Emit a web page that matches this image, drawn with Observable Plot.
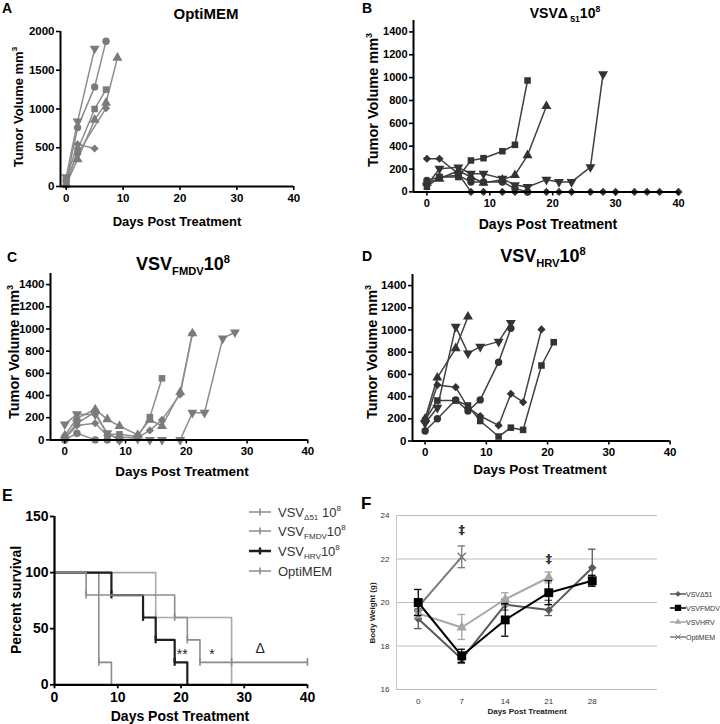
<!DOCTYPE html>
<html><head><meta charset="utf-8">
<script src="https://cdn.jsdelivr.net/npm/d3@7"></script>
<script src="https://cdn.jsdelivr.net/npm/@observablehq/plot@0.6"></script>
<style>
body{margin:0;background:#fff;}
#fig{position:relative;width:720px;height:724px;overflow:hidden;font-family:"Liberation Sans",Arial,sans-serif;background:#fff;}
.t{position:absolute;white-space:nowrap;line-height:1;}
.t sub,.t sup{font-size:0.62em;line-height:0;}
</style></head><body><div id="fig"></div>
<script>
// ---------------- DATA ----------------
// Panel A: OptiMEM tumor volumes [day, mm3]
const A_invtri   = [[0,120],[2,840],[5,1780]];
const A_circle   = [[0,60],[2,760],[5,1285],[7,1875]];
const A_triangle = [[0,30],[2,350],[5,860],[7,1080],[9,1660]];
const A_square   = [[0,20],[2,470],[5,1000],[7,1250]];
const A_diamond  = [[0,80],[2,420],[7,1010]];
const A_diamond2 = [[0,100],[2,545],[5,490]];
// Panel B: VSVΔ51 1e8
const B_square   = [[0,45],[2,130],[5,130],[7,275],[9,295],[12,356],[14,412],[16,975]];
const B_triangle = [[0,80],[2,115],[5,185],[7,130],[9,80],[12,107],[14,146],[16,320],[19,750]];
const B_invtri   = [[0,58],[2,203],[5,215],[7,159],[9,159],[12,116],[14,60],[16,43],[19,107],[21,87],[23,87],[26,217],[28,1030]];
const B_diamond  = [[0,290],[2,290],[5,160],[7,0],[9,0],[12,0],[14,0],[16,0],[19,0],[21,0],[23,0],[26,0],[28,0],[30,0],[33,0],[35,0],[37,0],[40,0]];
const B_circle   = [[0,100],[2,130],[5,145],[7,87],[9,87],[12,87],[14,29],[16,0]];
// Panel C: VSV-FMDV 1e8
const C_square   = [[0,20],[2,150],[5,250],[7,50],[9,50],[12,30],[14,205],[16,555]];
const C_diamond  = [[0,10],[2,130],[5,150],[7,40],[9,25],[12,20],[14,85],[16,180],[19,410],[21,960]];
const C_triangle = [[0,40],[2,195],[5,275],[7,185],[9,125],[12,45],[14,180],[16,125],[19,430],[21,960]];
const C_invtri   = [[0,140],[2,232],[5,230],[7,60],[9,0],[12,10],[14,0],[16,0],[19,0],[21,245],[23,245],[26,915],[28,970]];
const C_circle   = [[0,0],[2,60],[5,0],[7,0],[9,0]];
// Panel D: VSV-HRV 1e8
const D_triangle = [[0,200],[2,570],[5,835],[7,1120]];
const D_invtri   = [[0,160],[2,300],[5,1030],[7,790],[9,850],[12,895],[14,1065]];
const D_diamond  = [[0,170],[2,505],[5,485],[7,300],[9,225],[12,140],[14,425],[16,350],[19,1005]];
const D_circle   = [[0,90],[2,200],[5,370],[7,270],[9,370],[12,710],[14,1015]];
const D_square   = [[0,185],[2,365],[5,365],[7,320],[9,180],[12,40],[14,120],[16,100],[19,680],[21,890]];
// Panel E: survival [day, percent]
const E_d51  = [[0,100],[5,80],[19,60],[21,40],[23,20],[40,20]];
const E_fmdv = [[0,100],[16,60],[28,0]];
const E_hrv  = [[0,100],[9,80],[14,60],[16,40],[19,20],[21,0]];
const E_opti = [[0,100],[7,20],[9,0]];
const E_ticks_d51  = [[5,80],[19,60],[21,40],[23,20],[28,20],[40,20]];
const E_ticks_fmdv = [[16,60]];
const E_ticks_hrv  = [[9,80],[14,60],[16,40],[19,20]];
const E_ticks_opti = [[7,20]];
const E_notes = [[20.2,27,"**"],[24.9,27,"*"],[32.5,32,"Δ"]];
const E_legend = ["VSV<sub>Δ51</sub> 10<sup>8</sup>","VSV<sub>FMDV</sub>10<sup>8</sup>","VSV<sub>HRV</sub>10<sup>8</sup>","OptiMEM"];
// Panel F: body weight [day, mean, low, high]
const F_days = [0,7,14,21,28];
const F_d51  = [[0,19.25,18.8,19.7],[7,17.4,17.2,17.6],[14,19.9,19.65,20.15],[21,19.65,19.4,20.1],[28,21.6,20.75,22.45]];
const F_fmdv = [[0,20.0,19.4,20.6],[7,17.55,17.25,17.85],[14,19.2,18.45,19.95],[21,20.45,19.9,21.0],[28,21.0,20.75,21.25]];
const F_hrv  = [[0,19.5,19.3,19.7],[7,18.85,18.3,19.45],[14,20.15,19.85,20.45],[21,21.15,20.9,21.4]];
const F_opti = [[0,19.8,19.6,20.0],[7,22.1,21.6,22.6]];
const F_sig  = [[7,23.35,"‡"],[21,22.0,"‡"]];
const F_legend = ["VSVΔ51","VSVFMDV","VSVHRV","OptiMEM"];

// ---------------- HELPERS ----------------
const fig = document.getElementById("fig");
const FONT = '"Liberation Sans", Arial, sans-serif';
const fmt = d3.format("d");
function txt(html, x, y, {size=13, weight="bold", anchor="middle", rotate=false, color="#000"}={}) {
  const el = document.createElement("div");
  el.className = "t";
  el.innerHTML = html;
  el.style.fontSize = size + "px";
  el.style.fontWeight = weight;
  el.style.color = color;
  el.style.left = x + "px";
  el.style.top = y + "px";
  const tx = anchor === "middle" ? "-50%" : anchor === "end" ? "-100%" : "0";
  el.style.transform = `translate(${tx},-50%)` + (rotate ? " rotate(-90deg)" : "");
  fig.append(el);
}
function put(svg, left, top) {
  svg.style.position = "absolute";
  svg.style.left = left + "px";
  svg.style.top = top + "px";
  fig.append(svg);
}
const invTri = { draw(ctx, size) { const s3 = Math.sqrt(3); const y = -Math.sqrt(size / (s3 * 3)); ctx.moveTo(0, -y * 2); ctx.lineTo(-s3 * y, y); ctx.lineTo(s3 * y, y); ctx.closePath(); } };
const shapes = {circle: d3.symbolCircle, square: d3.symbolSquare, triangle: d3.symbolTriangle, invtri: invTri, diamond: d3.symbolDiamond2 || d3.symbolDiamond};

function tumorPanel({ax, x0, x40, yTop, yBottom, ymax, yticks, series, color, lineColor, fontSize}) {
  const mL = 46, mR = 12, mT = 6, mB = 26;
  const dmin = -(x0 - ax) * 40 / (x40 - x0);
  const width = mL + (x40 - ax) + mR;
  const height = mT + (yBottom - yTop) + mB;
  const marks = [];
  for (const s of series) marks.push(Plot.line(s.data.map(([d, v]) => ({d, v})), {x: "d", y: "v", stroke: lineColor, strokeWidth: 1.5}));
  for (const s of series) marks.push(Plot.dot(s.data.map(([d, v]) => ({d, v})), {x: "d", y: "v", symbol: shapes[s.shape], fill: color, r: 3.7}));
  marks.push(
    Plot.ruleY([0], {stroke: "#000", strokeWidth: 2}),
    Plot.ruleX([dmin], {stroke: "#000", strokeWidth: 2}),
    Plot.axisX({ticks: [0, 10, 20, 30, 40], tickFormat: fmt, tickSize: 4, tickPadding: 3, label: null, strokeWidth: 1.6}),
    Plot.axisY({ticks: yticks, tickFormat: fmt, tickSize: 4, tickPadding: 2, label: null, strokeWidth: 1.6})
  );
  const svg = Plot.plot({
    width, height, marginLeft: mL, marginRight: mR, marginTop: mT, marginBottom: mB,
    x: {domain: [dmin, 40]}, y: {domain: [0, ymax]},
    style: {fontFamily: FONT, fontSize: fontSize + "px", fontWeight: "bold", color: "#000", background: "transparent", overflow: "visible"},
    marks
  });
  put(svg, ax - mL, yTop - mT);
}

const grayPt = "#7b7b7b", grayLn = "#8d8d8d", darkPt = "#333", darkLn = "#404040";
const yt1400 = [0, 200, 400, 600, 800, 1000, 1200, 1400];

// Panel A
tumorPanel({ax: 60, x0: 65.7, x40: 293.3, yTop: 30.7, yBottom: 185.7, ymax: 2000, yticks: [0, 500, 1000, 1500, 2000],
  series: [{shape: "invtri", data: A_invtri}, {shape: "circle", data: A_circle}, {shape: "triangle", data: A_triangle}, {shape: "square", data: A_square}, {shape: "diamond", data: A_diamond}, {shape: "diamond", data: A_diamond2}],
  color: grayPt, lineColor: grayLn, fontSize: 11.5});
// Panel B
tumorPanel({ax: 413.3, x0: 426.7, x40: 678.3, yTop: 20.3, yBottom: 191.7, ymax: 1500, yticks: yt1400,
  series: [{shape: "diamond", data: B_diamond}, {shape: "circle", data: B_circle}, {shape: "triangle", data: B_triangle}, {shape: "invtri", data: B_invtri}, {shape: "square", data: B_square}],
  color: darkPt, lineColor: darkLn, fontSize: 11});
// Panel C
tumorPanel({ax: 50, x0: 64.3, x40: 307.3, yTop: 272.9, yBottom: 439.3, ymax: 1500, yticks: yt1400,
  series: [{shape: "circle", data: C_circle}, {shape: "invtri", data: C_invtri}, {shape: "triangle", data: C_triangle}, {shape: "diamond", data: C_diamond}, {shape: "square", data: C_square}],
  color: grayPt, lineColor: grayLn, fontSize: 11.5});
// Panel D
tumorPanel({ax: 411.7, x0: 424.3, x40: 669.3, yTop: 274.2, yBottom: 440.7, ymax: 1500, yticks: yt1400,
  series: [{shape: "triangle", data: D_triangle}, {shape: "invtri", data: D_invtri}, {shape: "diamond", data: D_diamond}, {shape: "circle", data: D_circle}, {shape: "square", data: D_square}],
  color: darkPt, lineColor: darkLn, fontSize: 11.5});

// Panel E
(function () {
  const ax = 54.3, x40 = 307.3, yTop = 515.7, yBottom = 684;
  const mL = 50, mR = 14, mT = 6, mB = 30;
  const width = mL + (x40 - ax) + mR, height = mT + (yBottom - yTop) + mB;
  const curves = [
    {data: E_fmdv, ticks: E_ticks_fmdv, stroke: "#a9a9a9", w: 1.6},
    {data: E_opti, ticks: E_ticks_opti, stroke: "#8c8c8c", w: 1.6},
    {data: E_hrv,  ticks: E_ticks_hrv,  stroke: "#1e1e1e", w: 2.2},
    {data: E_d51,  ticks: E_ticks_d51,  stroke: "#8c8c8c", w: 1.6}
  ];
  const marks = [];
  for (const c of curves) {
    marks.push(Plot.line(c.data.map(([d, p]) => ({d, p})), {x: "d", y: "p", stroke: c.stroke, strokeWidth: c.w, curve: "step-after"}));
    marks.push(Plot.ruleX(c.ticks.map(([d, p]) => ({d, p})), {x: "d", y1: r => r.p - 3.5, y2: r => r.p + 3.5, stroke: c.stroke, strokeWidth: c.w}));
  }
  marks.push(Plot.text(E_notes.map(([d, p, t]) => ({d, p, t})), {x: "d", y: "p", text: "t", fontSize: 14, fontWeight: "normal", fill: "#222"}));
  marks.push(
    Plot.ruleY([0], {stroke: "#000", strokeWidth: 2.2}),
    Plot.ruleX([0], {stroke: "#000", strokeWidth: 2.2}),
    Plot.axisX({ticks: [0, 10, 20, 30, 40], tickFormat: fmt, tickSize: 4, tickPadding: 3, label: null, strokeWidth: 1.8}),
    Plot.axisY({ticks: [0, 50, 100, 150], tickFormat: fmt, tickSize: 4, tickPadding: 2, label: null, strokeWidth: 1.8})
  );
  const svg = Plot.plot({
    width, height, marginLeft: mL, marginRight: mR, marginTop: mT, marginBottom: mB,
    x: {domain: [0, 40]}, y: {domain: [0, 150]},
    style: {fontFamily: FONT, fontSize: "14px", fontWeight: "bold", color: "#000", background: "transparent", overflow: "visible"},
    marks
  });
  put(svg, ax - mL, yTop - mT);
  // legend
  const lc = [["#8c8c8c", 1.6], ["#8c8c8c", 1.6], ["#1e1e1e", 2.4], ["#8c8c8c", 1.6]];
  const ly = [512, 531, 551, 571];
  E_legend.forEach((lab, i) => {
    const sw = `<svg width="22" height="9" style="vertical-align:middle"><line x1="0" y1="4.5" x2="22" y2="4.5" stroke="${lc[i][0]}" stroke-width="${lc[i][1]}"/><line x1="11" y1="1" x2="11" y2="8" stroke="${lc[i][0]}" stroke-width="${lc[i][1]}"/></svg>`;
    txt(sw, 249, ly[i], {anchor: "start", size: 9});
    txt(lab, 278, ly[i], {anchor: "start", size: 13, weight: "normal", color: "#333"});
  });
})();

// Panel F
(function () {
  const left = 360, top = 505, width = 300, height = 219;
  const mL = 36, mR = 3, mT = 10, mB = 35;
  const series = [
    {data: F_d51,  stroke: "#595959", symbol: d3.symbolDiamond2 || d3.symbolDiamond, r: 3.8, w: 2},
    {data: F_hrv,  stroke: "#a6a6a6", symbol: d3.symbolTriangle, r: 3.8, w: 2},
    {data: F_opti, stroke: "#7a7a7a", symbol: "times", r: 3.8, w: 2},
    {data: F_fmdv, stroke: "#000", symbol: d3.symbolSquare, r: 5, w: 2}
  ];
  const marks = [
    Plot.gridY({ticks: [16, 18, 20, 22, 24], stroke: "#bdbdbd", strokeOpacity: 1, strokeWidth: 1}),
    Plot.ruleX([-3.5], {stroke: "#c8c8c8", strokeWidth: 1}),
    Plot.axisY({ticks: [16, 18, 20, 22, 24], tickFormat: fmt, tickSize: 0, tickPadding: 7, label: null}),
    Plot.axisX({ticks: F_days, tickFormat: fmt, tickSize: 0, tickPadding: 9, label: null})
  ];
  for (const s of series) {
    const rows = s.data.map(([d, m, lo, hi]) => ({d, m, lo, hi}));
    marks.push(Plot.ruleX(rows, {x: "d", y1: "lo", y2: "hi", stroke: s.stroke, strokeWidth: 1.3}));
    marks.push(Plot.ruleY(rows, {y: "lo", x1: r => r.d - 0.6, x2: r => r.d + 0.6, stroke: s.stroke, strokeWidth: 1.3}));
    marks.push(Plot.ruleY(rows, {y: "hi", x1: r => r.d - 0.6, x2: r => r.d + 0.6, stroke: s.stroke, strokeWidth: 1.3}));
    marks.push(Plot.line(rows, {x: "d", y: "m", stroke: s.stroke, strokeWidth: s.w}));
    if (s.symbol === "times") marks.push(Plot.dot(rows, {x: "d", y: "m", symbol: "times", stroke: s.stroke, strokeWidth: 1.5, r: s.r}));
    else marks.push(Plot.dot(rows, {x: "d", y: "m", symbol: s.symbol, fill: s.stroke, r: s.r}));
  }
  marks.push(Plot.text(F_sig.map(([d, v, t]) => ({d, v, t})), {x: "d", y: "v", text: "t", fontSize: 13, fontWeight: "bold", fill: "#333", fontFamily: '"DejaVu Sans", sans-serif'}));
  const svg = Plot.plot({
    width, height, marginLeft: mL, marginRight: mR, marginTop: mT, marginBottom: mB,
    x: {domain: [-3.5, 38.5]}, y: {domain: [16, 24]},
    style: {fontFamily: FONT, fontSize: "8px", color: "#333", background: "transparent", overflow: "visible"},
    marks
  });
  put(svg, left, top);
  const ly = [594, 608, 622, 637];
  const lcol = ["#595959", "#000", "#a6a6a6", "#7a7a7a"];
  const lsym = [d3.symbolDiamond2 || d3.symbolDiamond, d3.symbolSquare, d3.symbolTriangle, d3.symbolTimes || d3.symbolX];
  const lsize = [22, 40, 18, 20];
  F_legend.forEach((lab, i) => {
    const sym = d3.symbol(lsym[i], lsize[i])();
    const isX = i === 3;
    const sw = `<svg width="16" height="9" style="vertical-align:middle"><line x1="0" y1="4.5" x2="16" y2="4.5" stroke="${lcol[i]}" stroke-width="1.6"/><path transform="translate(8,4.5)" d="${sym}" fill="${isX ? "none" : lcol[i]}" stroke="${isX ? lcol[i] : "none"}"/></svg>`;
    txt(sw, 670, ly[i], {anchor: "start", size: 9});
    txt(lab, 686, ly[i], {anchor: "start", size: 7, weight: "normal", color: "#333"});
  });
})();

// ---------------- TEXT ----------------
// panel letters
txt("A", 2, 8, {anchor: "start", size: 14});
txt("B", 362, 8, {anchor: "start", size: 14});
txt("C", 7, 257, {anchor: "start", size: 14});
txt("D", 362, 256, {anchor: "start", size: 14});
txt("E", 2, 496, {anchor: "start", size: 16});
txt("F", 361, 503, {anchor: "start", size: 17});
// titles
txt("OptiMEM", 206, 13, {size: 15});
txt("VSVΔ<sub> 51</sub>10<sup>8</sup>", 565, 13, {size: 14});
txt("VSV<sub>FMDV</sub>10<sup>8</sup>", 183, 264, {size: 18});
txt("VSV<sub>HRV</sub>10<sup>8</sup>", 543, 256, {size: 18});
// axis labels
const yl = "Tumor Volume mm<sup>3</sup>", xl = "Days Post Treatment";
txt(yl, 18, 107, {size: 13, rotate: true});
txt(xl, 177, 221, {size: 13});
txt(yl, 373, 100, {size: 14.5, rotate: true});
txt(xl, 548, 224, {size: 14});
txt(yl, 14, 352, {size: 14.5, rotate: true});
txt(xl, 182, 472, {size: 13.5});
txt(yl, 372, 352, {size: 14.5, rotate: true});
txt(xl, 540, 470, {size: 13.5});
txt("Percent survival", 16, 600, {size: 14, rotate: true});
txt(xl, 180, 716, {size: 14});
txt("Body Weight (g)", 373, 613, {size: 8, rotate: true, color: "#222"});
txt(xl, 527, 712, {size: 8, color: "#222"});
</script></body></html>
